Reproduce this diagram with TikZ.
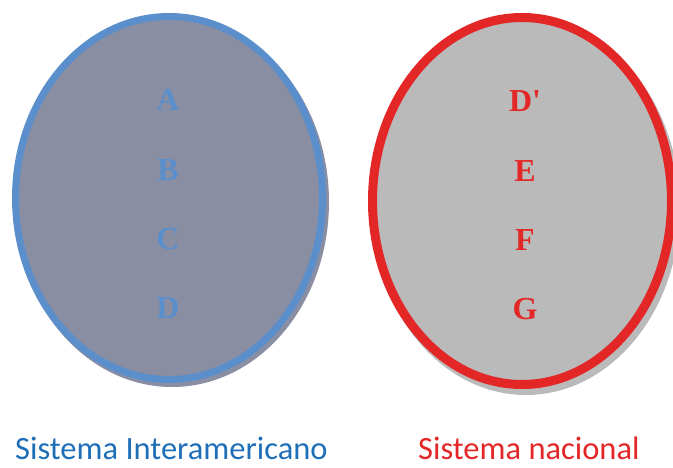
\documentclass[tikz,border=0pt]{standalone}
\usepackage{fontspec}
\setmainfont{Liberation Serif}
\newfontfamily\calib{Carlito}
\definecolor{lfill}{HTML}{898EA3}
\definecolor{lline}{HTML}{5B8FCB}
\definecolor{ltext}{HTML}{1F6FB8}
\definecolor{rfill}{HTML}{BABABA}
\definecolor{rline}{HTML}{E32626}
\definecolor{rtext}{HTML}{E32626}
\begin{document}
\begin{tikzpicture}[x=1pt,y=-1pt,
  letter/.style={font=\fontsize{32}{32}\selectfont\bfseries, inner sep=0pt},
  caption/.style={font=\calib\fontsize{32.5}{32.5}\selectfont, inner sep=0pt}]
\useasboundingbox (0,0) rectangle (673,468);
\begin{scope}
\clip (0,0) rectangle (673,468);
% left ellipse
\fill[lfill] (172,202) ellipse [x radius=157, y radius=185];
\draw[lline, line width=7pt, fill=lfill] (169,198) ellipse [x radius=153.5, y radius=181.5];
% right ellipse
\fill[rfill] (526,207) ellipse [x radius=154, y radius=188];
\draw[rline, line width=9pt, fill=rfill] (522,201) ellipse [x radius=149.5, y radius=183.5];
\end{scope}
\node[letter, text=lline] (a) at (168,100) {A};
\node[letter, text=lline] (b) at (168,170) {B};
\node[letter, text=lline] (c) at (168,239) {C};
\node[letter, text=lline] (d) at (168,308) {D};
\node[letter, text=rtext] (dp) at (525,101) {D\textquotesingle};
\node[letter, text=rtext] (e) at (525,171) {E};
\node[letter, text=rtext] (f) at (525,240) {F};
\node[letter, text=rtext] (g) at (525,309) {G};
% captions
\node[caption, text=ltext, anchor=base west] (l1) at (15,459.5) {Sistema Interamericano};
\node[caption, text=rtext, anchor=base west] (l2) at (418,459.5) {Sistema nacional};
\end{tikzpicture}
\end{document}
